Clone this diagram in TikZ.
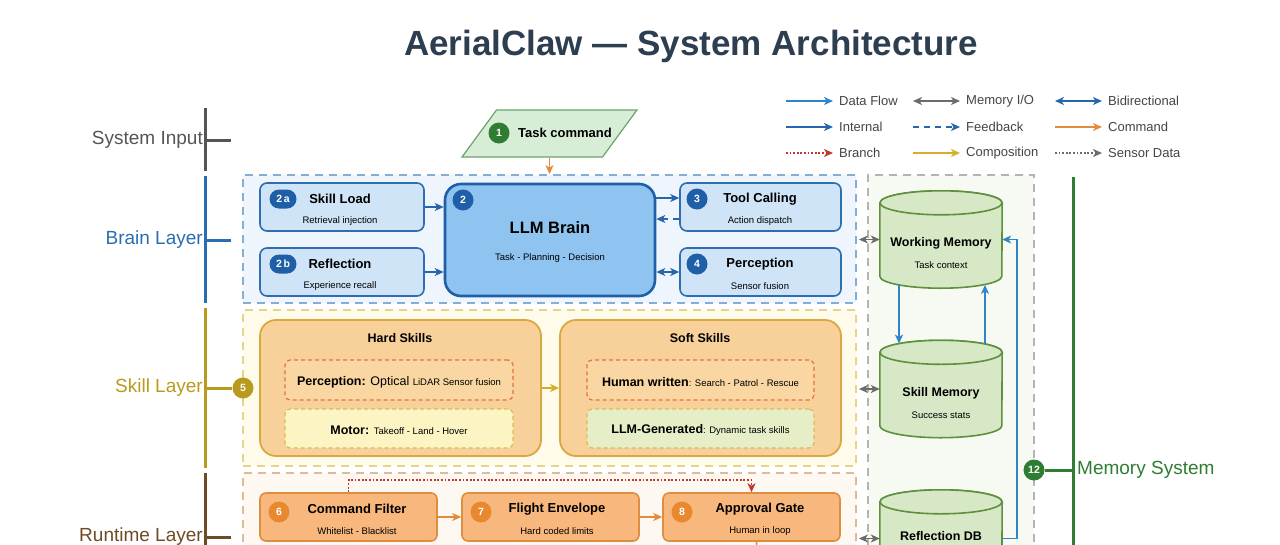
\documentclass[tikz,border=0pt]{standalone}
\usepackage{fontspec}
\setmainfont{Liberation Sans}
\usetikzlibrary{positioning, arrows.meta, shapes.geometric, calc}

\definecolor{titleC}{HTML}{2C3E50}
\definecolor{inkG}{HTML}{444444}
\definecolor{flowB}{HTML}{2E86C8}
\definecolor{intB}{HTML}{2766AD}
\definecolor{memG}{HTML}{6B6B6B}
\definecolor{cmdO}{HTML}{E38B3A}
\definecolor{brR}{HTML}{C0392B}
\definecolor{compY}{HTML}{D4AE2C}
\definecolor{inputL}{HTML}{555555}
\definecolor{brainL}{HTML}{2A6DB0}
\definecolor{brainFl}{HTML}{EEF5FC}
\definecolor{brainDs}{HTML}{86AED4}
\definecolor{boxB}{HTML}{CFE4F7}
\definecolor{boxBd}{HTML}{2F6DB0}
\definecolor{llmB}{HTML}{8FC3F0}
\definecolor{badgeB}{HTML}{1F5FA8}
\definecolor{skillL}{HTML}{B89B1E}
\definecolor{skillFl}{HTML}{FFFBEA}
\definecolor{skillDs}{HTML}{E6D58A}
\definecolor{skB}{HTML}{F8D09A}
\definecolor{skBd}{HTML}{D9A843}
\definecolor{inRBd}{HTML}{E2733C}
\definecolor{inRFl}{HTML}{F9D6A2}
\definecolor{inYFl}{HTML}{FDF4C3}
\definecolor{inYBd}{HTML}{D9BD52}
\definecolor{inGFl}{HTML}{E6EEC8}
\definecolor{rtL}{HTML}{6E4B25}
\definecolor{rtFl}{HTML}{FDF8F1}
\definecolor{rtDs}{HTML}{DDBB98}
\definecolor{rtB}{HTML}{F8B77C}
\definecolor{rtBd}{HTML}{DE8E40}
\definecolor{badgeO}{HTML}{E8892F}
\definecolor{memFl}{HTML}{F6FAF3}
\definecolor{memDs}{HTML}{B4B4B4}
\definecolor{cylFl}{HTML}{D6E8C6}
\definecolor{cylBd}{HTML}{5D913D}
\definecolor{memL}{HTML}{2E7D32}
\definecolor{taskFl}{HTML}{D7EDD5}
\definecolor{taskBd}{HTML}{6AA46A}

\tikzset{
  ttl/.style   = {font=\fontsize{13}{15}\selectfont\bfseries, inner sep=0pt},
  mttl/.style  = {font=\fontsize{12.5}{15}\selectfont\bfseries, inner sep=0pt},
  sub/.style   = {font=\fontsize{9.5}{11}\selectfont, inner sep=0pt},
  mix/.style   = {font=\fontsize{12.5}{15}\selectfont, inner sep=0pt},
  lgd/.style   = {font=\fontsize{13}{15}\selectfont, text=inkG, inner sep=0pt, anchor=west},
  lyr/.style   = {font=\fontsize{19}{22}\selectfont, anchor=east, inner sep=1pt},
  bar/.style   = {line width=3pt},
  cont/.style  = {draw, line width=1.8pt, dash pattern=on 8pt off 6pt, inner sep=0pt},
  bbox/.style  = {draw=boxBd, fill=boxB, line width=1.6pt, rounded corners=7pt,
                  minimum width=164, minimum height=48},
  skbox/.style = {draw=skBd, fill=skB, line width=1.8pt, rounded corners=16pt,
                  minimum width=281, minimum height=136},
  inbox/.style = {draw, line width=1.2pt, dash pattern=on 4pt off 3pt, rounded corners=5pt,
                  minimum width=228, minimum height=40},
  rtbox/.style = {draw=rtBd, fill=rtB, line width=1.6pt, rounded corners=6pt,
                  minimum width=177, minimum height=48},
  drumbox/.style = {minimum width=122, minimum height=97, inner sep=0pt},
  drumline/.style = {draw=cylBd, fill=cylFl, line width=1.6pt},
  bdg/.style   = {circle, minimum size=21, inner sep=0pt, text=white,
                  font=\fontsize{10.5}{12}\selectfont\bfseries},
  pill/.style  = {rounded corners=9.5pt, minimum width=27, minimum height=19, inner sep=0pt,
                  fill=badgeB, text=white, font=\fontsize{10.5}{12}\selectfont\bfseries},
  dflow/.style = {->, draw=flowB, line width=1.6pt},
  intl/.style  = {->, draw=intB, line width=1.6pt},
  bidir/.style = {<->, draw=intB, line width=1.6pt},
  memio/.style = {<->, draw=memG, line width=1.6pt},
  fback/.style = {->, draw=intB, line width=1.6pt, dash pattern=on 6pt off 5pt},
  cmd/.style   = {->, draw=cmdO, line width=1.6pt},
  brnch/.style = {->, draw=brR, line width=1.8pt, dash pattern=on 1.8pt off 1.8pt},
  comp/.style  = {->, draw=compY, line width=1.6pt},
  sens/.style  = {->, draw=memG, line width=1.8pt, dash pattern=on 1.8pt off 1.8pt},
}

% database drum: name, x, y
\newcommand{\dbdrum}[3]{%
  \node[drumbox] (#1) at (#2,#3) {};
  \draw[drumline] ([yshift=-12pt]#1.north west) -- ([yshift=12pt]#1.south west)
    arc[start angle=180, end angle=0, x radius=61, y radius=12]
    -- ([yshift=-12pt]#1.north east)
    arc[start angle=0, end angle=-180, x radius=61, y radius=12] -- cycle;
  \draw[drumline] ([yshift=-12pt]#1.north) ellipse[x radius=61, y radius=12];
}

\begin{document}
\begin{tikzpicture}[x=1pt, y=-1pt, >={Stealth[length=9pt, width=8pt, inset=2.5pt]}]
  \useasboundingbox (0,0) rectangle (1280,544);
  \clip (0,0) rectangle (1280,544);

  \node[font=\fontsize{35}{40}\selectfont\bfseries, text=titleC] (title) at (691,46)
    {AerialClaw — System Architecture};

  % legend
  \foreach \x/\y/\sty/\txt [count=\i] in {
      786/101/dflow/{Data Flow}, 913/101/memio/{Memory I/O}, 1055/101/bidir/{Bidirectional},
      786/127/intl/{Internal}, 913/127/fback/{Feedback}, 1055/127/cmd/{Command},
      786/153/brnch/{Branch}, 913/153/comp/{Composition}, 1055/153/sens/{Sensor Data}}{
    \draw[\sty] (\x,\y) -- ++(47,0);
    \node[lgd] (lg\i) at (\x+53,\y) {\txt};
  }

  % layer axis on the left
  \draw[bar, inputL] (205,108) -- (205,171) (205,140) -- (231,140);
  \node[lyr, text=inputL] (inL) at (204,140) {System Input};
  \draw[bar, brainL] (205,176) -- (205,303) (205,240) -- (231,240);
  \node[lyr, text=brainL] (brL) at (204,240) {Brain Layer};
  \node[lyr, text=rtL] (rtLb) at (204,537) {Runtime Layer};
  \draw[bar, rtL] (205,473) -- (205,560) (205,537) -- (231,537);

  % containers
  \node[cont, draw=brainDs, fill=brainFl, minimum width=613, minimum height=128] (brainC) at (549.5,239) {};
  \node[cont, draw=skillDs, fill=skillFl, minimum width=613, minimum height=156] (skillC) at (549.5,388) {};
  \node[cont, draw=rtDs, fill=rtFl, minimum width=613, minimum height=127] (rtC) at (549.5,536.5) {};
  \node[cont, draw=memDs, fill=memFl, minimum width=166, minimum height=425] (memC) at (951,387.5) {};

  \draw[bar, skillL] (205,308) -- (205,468);
  \node[bdg, fill=skillL] (b5) at (243,388) {5};
  \draw[bar, skillL] (205,388) -- (b5);
  \node[lyr, text=skillL] (skL) at (204,388) {Skill Layer};

  % system input
  \node[trapezium, trapezium left angle=72, trapezium right angle=108, trapezium stretches=true,
        draw=taskBd, fill=taskFl, line width=1.2pt, minimum width=175, minimum height=47]
        (task) at (549.5,133.5) {};
  \node[bdg, fill=memL] (b1) at (499,133) {1};
  \node[ttl] (taskT) at (565,133) {Task command};
  \draw[cmd] (task.south) -- (task.south |- brainC.north);

  % brain layer
  \node[bbox] (sl) at (342,207) {};
  \node[pill] (b2a) at (283,199) {2\,a};
  \node[ttl] (slT) at (340,199) {Skill Load};
  \node[sub] (slS) at (340,221) {Retrieval injection};

  \node[bbox] (rf) at (342,272) {};
  \node[pill] (b2b) at (283,264) {2\,b};
  \node[ttl] (rfT) at (340,264) {Reflection};
  \node[sub] (rfS) at (340,286) {Experience recall};

  \node[draw=badgeB, fill=llmB, line width=2.6pt, rounded corners=16pt,
        minimum width=210, minimum height=112] (llm) at (550,240) {};
  \node[bdg, fill=badgeB] (b2) at (463,200) {2};
  \node[font=\fontsize{16.5}{19}\selectfont\bfseries, inner sep=0pt] (llmT) at (550,228) {LLM Brain};
  \node[sub] (llmS) at (550,258) {Task - Planning - Decision};

  \node[bbox, minimum width=161] (tc) at (760.5,207) {};
  \node[bdg, fill=badgeB] (b3) at (697,199) {3};
  \node[ttl] (tcT) at (760,199) {Tool Calling};
  \node[sub] (tcS) at (760,221) {Action dispatch};

  \node[bbox, minimum width=161] (pc) at (760.5,272) {};
  \node[bdg, fill=badgeB] (b4) at (697,264) {4};
  \node[ttl] (pcT) at (760,264) {Perception};
  \node[sub] (pcS) at (760,286) {Sensor fusion};

  \draw[intl] (sl.east) -- (sl.east -| llm.west);
  \draw[intl] (rf.east) -- (rf.east -| llm.west);
  \draw[intl] ([yshift=9pt]tc.west -| llm.east) -- ([yshift=9pt]tc.west);
  \draw[fback] ([yshift=-12pt]tc.west) -- ([yshift=-12pt]tc.west -| llm.east);
  \draw[bidir] (pc.west -| llm.east) -- (pc.west);

  % skill layer
  \node[skbox] (hard) at (400.5,388) {};
  \node[mttl] (hardT) at (400,338) {Hard Skills};
  \node[inbox, draw=inRBd, fill=inRFl] (hp) at (399,380) {};
  \node[mix] (hpT) at (399,382)
    {\textbf{Perception:} Optical {\fontsize{9.5}{11}\selectfont LiDAR Sensor fusion}};
  \node[inbox, draw=inYBd, fill=inYFl, minimum height=39] (hm) at (399,428.5) {};
  \node[mix] (hmT) at (399,430)
    {\textbf{Motor:} {\fontsize{9.5}{11}\selectfont Takeoff - Land - Hover}};

  \node[skbox] (soft) at (700.5,388) {};
  \node[mttl] (softT) at (700,338) {Soft Skills};
  \node[inbox, draw=inRBd, fill=inRFl, minimum width=227] (sh) at (700.5,380) {};
  \node[mix] (shT) at (700.5,382)
    {\textbf{Human written}{\fontsize{9.5}{11}\selectfont: Search - Patrol - Rescue}};
  \node[inbox, draw=inYBd, fill=inGFl, minimum width=227, minimum height=39] (sg) at (700.5,428.5) {};
  \node[mix] (sgT) at (700.5,430)
    {\textbf{LLM-Generated}{\fontsize{9.5}{11}\selectfont: Dynamic task skills}};

  \draw[comp] (hard.east) -- (soft.west);

  % runtime layer
  \node[rtbox] (cf) at (348.5,517) {};
  \node[bdg, fill=badgeO] (b6) at (279,512) {6};
  \node[ttl] (cfT) at (357,509) {Command Filter};
  \node[sub] (cfS) at (357,531) {Whitelist - Blacklist};

  \node[rtbox] (fe) at (550.5,517) {};
  \node[bdg, fill=badgeO] (b7) at (481,512) {7};
  \node[ttl] (feT) at (557,509) {Flight Envelope};
  \node[sub] (feS) at (557,531) {Hard coded limits};

  \node[rtbox] (ag) at (751.5,517) {};
  \node[bdg, fill=badgeO] (b8) at (682,512) {8};
  \node[ttl] (agT) at (760,509) {Approval Gate};
  \node[sub] (agS) at (760,531) {Human in loop};

  \draw[cmd] (cf.east) -- (fe.west);
  \draw[cmd] (fe.east) -- (ag.west);
  \draw[brnch] (cf.north) -- ++(0,-12) -| (ag.north);
  \coordinate (agOut) at (757,560);
  \draw[cmdO, line width=1.6pt] ([xshift=5pt]ag.south) -- (agOut);

  % memory system
  \dbdrum{wm}{941}{239.5}
  \node[mttl] (wmT) at (941,243) {Working Memory};
  \node[sub] (wmS) at (941,265) {Task context};
  \dbdrum{sm}{941}{389}
  \node[mttl] (smT) at (941,393) {Skill Memory};
  \node[sub] (smS) at (941,415) {Success stats};
  \dbdrum{rdb}{941}{538.5}
  \node[mttl] (rdbT) at (941,536) {Reflection DB};

  \draw[dflow] ([xshift=-42pt,yshift=3.3pt]wm.south) -- ([xshift=-42pt,yshift=-3.3pt]sm.north);
  \draw[dflow] ([xshift=44pt,yshift=-3.3pt]sm.north) -- ([xshift=44pt,yshift=3.3pt]wm.south);
  \draw[dflow] (rdb.east) -- ++(15,0) |- (wm.east);

  \draw[memio] ([xshift=2pt]brainC.east |- wm.west) -- (wm.west);
  \draw[memio] ([xshift=2pt]skillC.east |- sm.west) -- (sm.west);
  \draw[memio] ([xshift=2pt]rtC.east |- rdb.west) -- (rdb.west);

  \node[bdg, fill=memL] (b12) at (1034,470) {12};
  \draw[bar, memL] (1073,177) -- (1073,560) (b12) -- (1073,470);
  \node[lyr, anchor=west, text=memL] (meL) at (1076,470) {Memory System};
\end{tikzpicture}
\end{document}
